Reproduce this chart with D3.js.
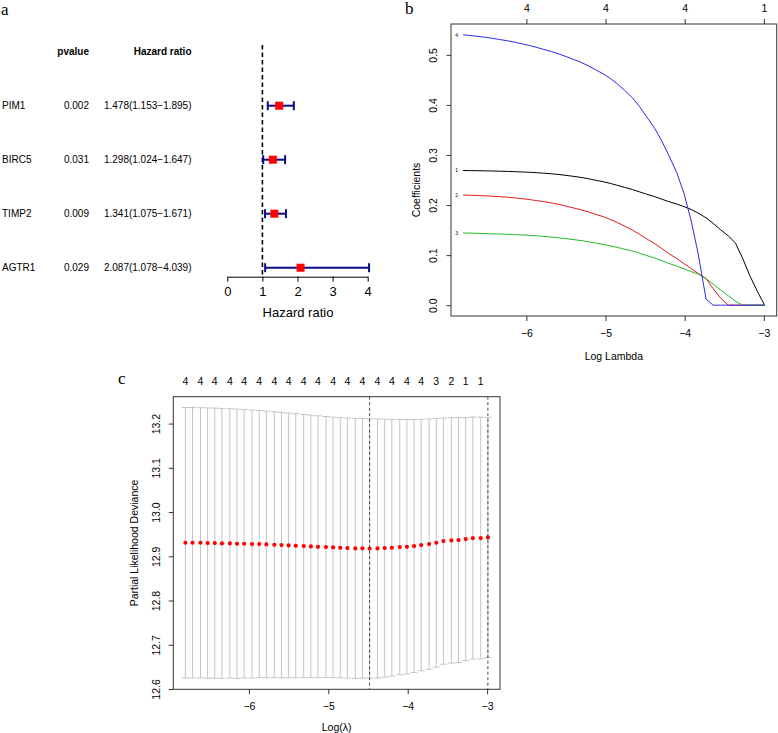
<!DOCTYPE html>
<html><head><meta charset="utf-8">
<script src="https://cdn.jsdelivr.net/npm/d3@7"></script>
<style>
body{margin:0;background:#fff}
svg{display:block}
text{font-family:"Liberation Sans",Arial,Helvetica,sans-serif;fill:#000}
.lbl{font-family:"Liberation Serif","Times New Roman",serif}
</style></head>
<body><svg id="chart" width="778" height="733"></svg>
<script>
// ---------- Panel a : forest plot ----------
const genes = ["PIM1","BIRC5","TIMP2","AGTR1"];
const pvalues = ["0.002","0.031","0.009","0.029"];
const hr = [1.478,1.298,1.341,2.087];
const hrLow = [1.153,1.024,1.075,1.078];
const hrHigh = [1.895,1.647,1.671,4.039];
const hrTicks = [0,1,2,3,4];

// ---------- shared lambda path (log lambda) ----------
const logLambda = [-6.80,-6.71,-6.61,-6.52,-6.43,-6.34,-6.24,-6.15,-6.06,-5.96,-5.87,-5.78,-5.68,-5.59,-5.50,-5.41,-5.31,-5.22,-5.13,-5.03,-4.94,-4.85,-4.76,-4.66,-4.57,-4.48,-4.38,-4.29,-4.20,-4.10,-4.01,-3.92,-3.83,-3.73,-3.64,-3.55,-3.45,-3.36,-3.27,-3.18,-3.08,-2.99];

// ---------- Panel b : coefficient paths ----------
const coef1 = [0.2690,0.2688,0.2686,0.2683,0.2680,0.2676,0.2672,0.2667,0.2661,0.2654,0.2646,0.2636,0.2624,0.2610,0.2593,0.2574,0.2552,0.2526,0.2497,0.2466,0.2432,0.2394,0.2353,0.2309,0.2263,0.2216,0.2168,0.2118,0.2068,0.2020,0.1970,0.1913,0.1840,0.1745,0.1635,0.1512,0.1385,0.1245,0.0944,0.0600,0.0270,0];
const coef2 = [0.2200,0.2195,0.2190,0.2183,0.2176,0.2167,0.2157,0.2144,0.2128,0.2109,0.2089,0.2067,0.2042,0.2013,0.1980,0.1944,0.1906,0.1864,0.1818,0.1768,0.1712,0.1650,0.1580,0.1500,0.1414,0.1325,0.1230,0.1132,0.1032,0.0931,0.0831,0.0733,0.0635,0.0533,0.0330,0.0150,0,0,0,0,0,0];
const coef3 = [0.1442,0.1439,0.1435,0.1431,0.1426,0.1421,0.1415,0.1409,0.1403,0.1395,0.1385,0.1373,0.1360,0.1345,0.1329,0.1311,0.1291,0.1268,0.1242,0.1214,0.1186,0.1154,0.1119,0.1080,0.1037,0.0991,0.0941,0.0889,0.0835,0.0781,0.0727,0.0673,0.0619,0.0530,0.0420,0.0308,0.0190,0.0080,0,0,0,0];
const coef4 = [0.5400,0.5386,0.5369,0.5351,0.5330,0.5307,0.5281,0.5252,0.5221,0.5186,0.5149,0.5109,0.5065,0.5018,0.4967,0.4912,0.4851,0.4782,0.4706,0.4622,0.4529,0.4420,0.4292,0.4142,0.3965,0.3762,0.3534,0.3279,0.2991,0.2647,0.2238,0.1699,0.1030,0.0120,0,0,0,0,0,0,0,0];
const coefNames = ["1","2","3","4"];
const coefColors = ["#000000","#e41a1c","#22bb22","#2a2ae6"];
const bTopTicks = [-6,-5,-4,-3];
const bTopLabels = ["4","4","4","1"];
const bXTicks = [-6,-5,-4,-3];
const bYTicks = [0,0.1,0.2,0.3,0.4,0.5];

// ---------- Panel c : cross-validation ----------
const cvm = [12.9306,12.9306,12.9306,12.9298,12.9298,12.9291,12.9291,12.9283,12.9283,12.9276,12.9276,12.9268,12.9261,12.9253,12.9246,12.9238,12.9231,12.9223,12.9215,12.9208,12.9200,12.9193,12.9185,12.9178,12.9180,12.9176,12.9178,12.9185,12.9193,12.9208,12.9215,12.9231,12.9253,12.9276,12.9306,12.9344,12.9359,12.9367,12.9389,12.9412,12.9412,12.9427];
const cvsd = [0.3057,0.3057,0.3053,0.3056,0.3052,0.3052,0.3045,0.3044,0.3035,0.3030,0.3019,0.3013,0.3007,0.3001,0.2992,0.2984,0.2975,0.2968,0.2960,0.2951,0.2945,0.2941,0.2940,0.2940,0.2934,0.2933,0.2926,0.2915,0.2902,0.2883,0.2876,0.2860,0.2842,0.2831,0.2812,0.2783,0.2773,0.2767,0.2747,0.2736,0.2733,0.2714];
const nzero = [4,4,4,4,4,4,4,4,4,4,4,4,4,4,4,4,4,4,4,4,4,4,4,4,4,4,4,4,4,4,4,4,4,4,3,3,2,2,1,1,1,1];
const lambdaMin = -4.48, lambda1se = -2.99;
const cXTicks = [-6,-5,-4,-3];
const cYTicks = [12.6,12.7,12.8,12.9,13.0,13.1,13.2];

const svg = d3.select("#chart");

// ================= Panel a =================
(function(){
  const g = svg.append("g");
  g.append("text").attr("class","lbl").attr("x",1).attr("y",15).attr("font-size",17).text("a");
  const y = d3.scalePoint().domain(genes).range([105.7,267.7]);
  const x = d3.scaleLinear().domain([0,4]).range([227.3,367.7]);
  const fs = 10;
  g.append("text").attr("x",89).attr("y",51.7).attr("dy","0.35em").attr("text-anchor","end")
    .attr("font-size",fs).attr("font-weight","bold").text("pvalue");
  g.append("text").attr("x",191.5).attr("y",51.7).attr("dy","0.35em").attr("text-anchor","end")
    .attr("font-size",fs).attr("font-weight","bold").text("Hazard ratio");
  genes.forEach((gn,i)=>{
    const yy = y(gn);
    g.append("text").attr("x",2).attr("y",yy).attr("dy","0.35em").attr("font-size",fs).text(gn);
    g.append("text").attr("x",89).attr("y",yy).attr("dy","0.35em").attr("text-anchor","end").attr("font-size",fs).text(pvalues[i]);
    g.append("text").attr("x",191.5).attr("y",yy).attr("dy","0.35em").attr("text-anchor","end").attr("font-size",fs)
      .text(`${hr[i].toFixed(3)}(${hrLow[i].toFixed(3)}\u2212${hrHigh[i].toFixed(3)})`);
  });
  g.append("line").attr("x1",x(1)).attr("x2",x(1)).attr("y1",45).attr("y2",276.7)
    .attr("stroke","#000").attr("stroke-width",1.6).attr("stroke-dasharray","4.5,3");
  genes.forEach((gn,i)=>{
    const yy = y(gn);
    const col = "#0b0b8a";
    g.append("line").attr("x1",x(hrLow[i])).attr("x2",x(hrHigh[i])).attr("y1",yy).attr("y2",yy).attr("stroke",col).attr("stroke-width",2);
    [hrLow[i],hrHigh[i]].forEach(v=>{
      g.append("line").attr("x1",x(v)).attr("x2",x(v)).attr("y1",yy-4.5).attr("y2",yy+4.5).attr("stroke",col).attr("stroke-width",2);
    });
    g.append("rect").attr("x",x(hr[i])-4).attr("y",yy-4).attr("width",8).attr("height",8).attr("fill","#ff0000");
  });
  const ax = g.append("g").attr("transform","translate(0,276.7)")
    .call(d3.axisBottom(x).tickValues(hrTicks).tickSize(5).tickSizeOuter(0).tickFormat(d3.format("d")));
  ax.select(".domain").attr("stroke","#000").attr("stroke-width",1);
  ax.selectAll(".tick line").attr("stroke","#000");
  ax.selectAll("text").attr("font-size",13).attr("y",14.5).attr("dy","0.35em").attr("font-family","Liberation Sans, Arial, sans-serif");
  g.append("text").attr("x",298).attr("y",312.7).attr("dy","0.35em").attr("text-anchor","middle").attr("font-size",13).text("Hazard ratio");
})();

// ================= Panel b =================
(function(){
  const g = svg.append("g");
  g.append("text").attr("class","lbl").attr("x",405).attr("y",14).attr("font-size",17).text("b");
  const L = 451, R = 776.7, T = 24, B = 316;
  const ext = d3.extent(logLambda), pad = (ext[1]-ext[0])*0.04;
  const x = d3.scaleLinear().domain([ext[0]-pad, ext[1]+pad]).range([L,R]);
  const allC = coef1.concat(coef2,coef3,coef4);
  const yext = d3.extent(allC), ypad = (yext[1]-yext[0])*0.04;
  const y = d3.scaleLinear().domain([yext[0]-ypad, yext[1]+ypad]).range([B,T]);
  const series = [coef1,coef2,coef3,coef4];
  const line = d3.line().x((d,i)=>x(logLambda[i])).y(d=>y(d));
  series.forEach((s,k)=>{
    g.append("path").datum(s).attr("d",line).attr("fill","none").attr("stroke",coefColors[k]).attr("stroke-width",1);
    g.append("text").attr("x",x(logLambda[0])-6.5).attr("y",y(s[0])).attr("dy","0.35em")
      .attr("font-size",5).attr("text-anchor","middle").text(coefNames[k]);
  });
  g.append("rect").attr("x",L).attr("y",T).attr("width",R-L).attr("height",B-T).attr("fill","none").attr("stroke","#333").attr("stroke-width",1);
  const bx = g.append("g").attr("transform",`translate(0,${B})`).call(d3.axisBottom(x).tickValues(bXTicks).tickSize(5).tickFormat(d=>d3.format("d")(d).replace("-","\u2212")));
  bx.select(".domain").remove();
  bx.selectAll(".tick line").attr("stroke","#333");
  bx.selectAll("text").attr("font-size",10.5).attr("y",17.5).attr("dy","0.35em");
  const tx = g.append("g").attr("transform",`translate(0,${T})`).call(d3.axisTop(x).tickValues(bTopTicks).tickSize(5).tickFormat((d,i)=>bTopLabels[i]));
  tx.select(".domain").remove();
  tx.selectAll(".tick line").attr("stroke","#333");
  tx.selectAll("text").attr("font-size",10.5).attr("y",-15.7).attr("dy","0.35em");
  const ly = g.append("g").attr("transform",`translate(${L},0)`).call(d3.axisLeft(y).tickValues(bYTicks).tickSize(4.5).tickFormat(d3.format(".1f")));
  ly.select(".domain").remove();
  ly.selectAll(".tick line").attr("stroke","#333");
  ly.selectAll("text").attr("font-size",10.5).attr("x",0).attr("y",0).attr("dy","0.35em").attr("text-anchor","middle")
    .attr("transform","translate(-17.7,0) rotate(-90)");
  g.append("text").attr("transform","translate(416.7,190) rotate(-90)").attr("dy","0.35em").attr("text-anchor","middle").attr("font-size",10.5).text("Coefficients");
  g.append("text").attr("x",(L+R)/2).attr("y",356.7).attr("dy","0.35em").attr("text-anchor","middle").attr("font-size",10.5).text("Log Lambda");
})();

// ================= Panel c =================
(function(){
  const g = svg.append("g");
  g.append("text").attr("class","lbl").attr("x",118).attr("y",384).attr("font-size",17).text("c");
  const L = 173.3, R = 500, T = 396.7, B = 689.3;
  const ext = d3.extent(logLambda), pad = (ext[1]-ext[0])*0.04;
  const x = d3.scaleLinear().domain([ext[0]-pad, ext[1]+pad]).range([L,R]);
  const up = cvm.map((m,i)=>m+cvsd[i]), lo = cvm.map((m,i)=>m-cvsd[i]);
  const ymin = d3.min(lo), ymax = d3.max(up), ypad = (ymax-ymin)*0.04;
  const y = d3.scaleLinear().domain([ymin-ypad, ymax+ypad]).range([B,T]);
  const barCol = "#c4c4c4";
  logLambda.forEach((l,i)=>{
    const xx = x(l);
    g.append("line").attr("x1",xx).attr("x2",xx).attr("y1",y(lo[i])).attr("y2",y(up[i])).attr("stroke",barCol).attr("stroke-width",1);
    g.append("line").attr("x1",xx-3.5).attr("x2",xx+3.5).attr("y1",y(lo[i])).attr("y2",y(lo[i])).attr("stroke",barCol).attr("stroke-width",1);
    g.append("line").attr("x1",xx-3.5).attr("x2",xx+3.5).attr("y1",y(up[i])).attr("y2",y(up[i])).attr("stroke",barCol).attr("stroke-width",1);
  });
  g.selectAll("circle.cv").data(cvm).enter().append("circle")
    .attr("cx",(d,i)=>x(logLambda[i])).attr("cy",d=>y(d)).attr("r",2.1).attr("fill","#ff0000");
  [lambdaMin, lambda1se].forEach(v=>{
    g.append("line").attr("x1",x(v)).attr("x2",x(v)).attr("y1",T).attr("y2",B).attr("stroke","#333").attr("stroke-width",0.9).attr("stroke-dasharray","3,2.5");
  });
  g.append("rect").attr("x",L).attr("y",T).attr("width",R-L).attr("height",B-T).attr("fill","none").attr("stroke","#333").attr("stroke-width",1);
  logLambda.forEach((l,i)=>{
    if(i%2===0) g.append("text").attr("x",x(l)).attr("y",381.7).attr("dy","0.35em").attr("text-anchor","middle").attr("font-size",10.5).text(nzero[i]);
  });
  const bx = g.append("g").attr("transform",`translate(0,${B})`).call(d3.axisBottom(x).tickValues(cXTicks).tickSize(5).tickFormat(d=>d3.format("d")(d).replace("-","\u2212")));
  bx.select(".domain").remove();
  bx.selectAll(".tick line").attr("stroke","#333");
  bx.selectAll("text").attr("font-size",10.5).attr("y",17.4).attr("dy","0.35em");
  const ly = g.append("g").attr("transform",`translate(${L},0)`).call(d3.axisLeft(y).tickValues(cYTicks).tickSize(4.5).tickFormat(d3.format(".1f")));
  ly.select(".domain").remove();
  ly.selectAll(".tick line").attr("stroke","#333");
  ly.selectAll("text").attr("font-size",10.5).attr("x",0).attr("y",0).attr("dy","0.35em").attr("text-anchor","middle")
    .attr("transform","translate(-16.6,0) rotate(-90)");
  g.append("text").attr("transform",`translate(134,${(T+B)/2}) rotate(-90)`).attr("dy","0.35em").attr("text-anchor","middle").attr("font-size",10.5).text("Partial Likelihood Deviance");
  g.append("text").attr("x",(L+R)/2).attr("y",727.5).attr("dy","0.35em").attr("text-anchor","middle").attr("font-size",10.5).text("Log(\u03bb)");
})();
</script></body></html>
